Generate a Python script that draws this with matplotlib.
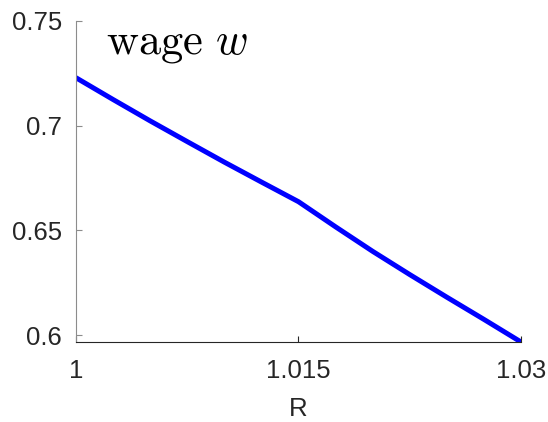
import matplotlib
matplotlib.use('Agg')
import matplotlib.pyplot as plt
import numpy as np

# gross interest rate grid and wage
R = [1.0, 1.0025, 1.005, 1.0075, 1.01, 1.0125, 1.015,
     1.0175, 1.02, 1.0225, 1.025, 1.0275, 1.03]
wage = [0.7229, 0.7125, 0.7023, 0.6924, 0.6826, 0.6731, 0.6637,
        0.6517, 0.6400, 0.6289, 0.6181, 0.6075, 0.5967]
x_ticks = [1.0, 1.015, 1.03]
x_tick_labels = ['1', '1.015', '1.03']
y_ticks = [0.6, 0.65, 0.7, 0.75]
y_tick_labels = ['0.6', '0.65', '0.7', '0.75']

plt.rcParams['font.family'] = ['Liberation Sans', 'DejaVu Sans']
plt.rcParams['mathtext.fontset'] = 'cm'

fig = plt.figure(figsize=(5.48, 4.22), dpi=100)
ax = fig.add_axes([76 / 548, 80 / 422, 445 / 548, 321 / 422])

ax.plot(R, wage, color='#0000ff', linewidth=3.6, solid_capstyle='round')

ax.set_xlim(1.0, 1.03)
ax.set_ylim(min(wage), 0.75)
ax.set_xticks(x_ticks)
ax.set_xticklabels(x_tick_labels)
ax.set_yticks(y_ticks)
ax.set_yticklabels(y_tick_labels)

for side in ['top', 'right']:
    ax.spines[side].set_visible(False)
ax.spines['left'].set_color('#8c8c8c')
ax.spines['bottom'].set_color('#262626')
ax.tick_params(direction='in', length=4, width=0.8, colors='#262626',
               labelsize=18.5, pad=12)
ax.tick_params(axis='y', colors='#8c8c8c', labelcolor='#262626', pad=10)

ax.set_xlabel('R', fontsize=18.5, color='#262626', labelpad=10)
ax.text(0.068, 0.9, r'$\mathrm{wage}\ w$', transform=ax.transAxes,
        fontsize=32, color='black', va='baseline')

fig.savefig('out.png', dpi=100)
